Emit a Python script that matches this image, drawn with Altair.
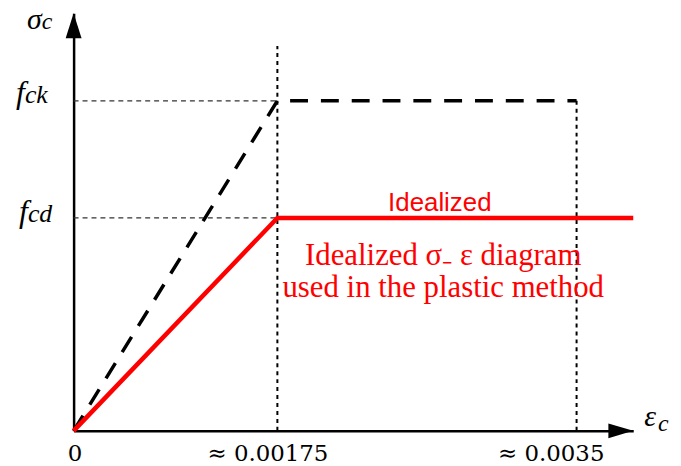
import altair as alt
import pandas as pd

# ---- data (schematic values) ----
eps_ticks = [0, 0.00175, 0.0035]
eps_tick_labels = ["0", "≈ 0.00175", "≈ 0.0035"]
eps_max = 0.00383          # end of the strain axis
sigma_max = 1.265          # end of the stress axis (fck = 1)
fck = 1.0
fcd = 0.645
guide_top = 1.166          # top of the dotted line at 0.00175

char_x = [0, 0.00175, 0.0035]
char_y = [0, fck, fck]
ideal_x = [0, 0.00175, eps_max]
ideal_y = [0, fcd, fcd]

# label expression built from the tick lists (midpoints as thresholds)
mids = [(a + b) / 2 for a, b in zip(eps_ticks[:-1], eps_ticks[1:])]
label_expr = "".join(
    f"datum.value < {m} ? '{t}' : " for m, t in zip(mids, eps_tick_labels[:-1])
) + f"'{eps_tick_labels[-1]}'"

xscale = alt.Scale(domain=[0, 0.00175, 0.0035, eps_max], range=[0, 205, 506, 563])
yscale = alt.Scale(domain=[0, sigma_max])

xaxis = alt.Axis(
    title=None, values=eps_ticks, labelExpr=label_expr, grid=False, ticks=False, tickSize=0,
    domainColor="black", domainWidth=2.5, labelFont="DejaVu Serif", labelFontSize=23,
    labelColor="black", labelBaseline="alphabetic", labelPadding=30, labelFlush=False,
    labelOverlap=False,
    labelOffset={"condition": [{"test": f"datum.value < {mids[0]}", "value": 1},
                               {"test": f"datum.value < {mids[1]}", "value": -10}],
                 "value": -26},
)
yaxis = alt.Axis(title=None, labels=False, ticks=False, grid=False,
                 domainColor="black", domainWidth=2.5)


def xenc(f):
    return alt.X(f, type="quantitative", scale=xscale, axis=xaxis)


def yenc(f):
    return alt.Y(f, type="quantitative", scale=yscale, axis=yaxis)


char_df = pd.DataFrame({"x": char_x, "y": char_y, "i": range(len(char_x))})
ideal_df = pd.DataFrame({"x": ideal_x, "y": ideal_y, "i": range(len(ideal_x))})

# guide lines
hguides = pd.DataFrame({"x": [0, 0], "x2": [eps_ticks[1]] * 2, "y": [fck, fcd]})
vguides = pd.DataFrame({"x": [eps_ticks[1], eps_ticks[2]], "y": [0, 0], "y2": [guide_top, fck]})

hg = alt.Chart(hguides).mark_rule(strokeDash=[5, 4], strokeWidth=1.2, color="#333333").encode(
    x=xenc("x"), x2="x2", y=yenc("y"))
vg = alt.Chart(vguides).mark_rule(strokeDash=[4, 4], strokeWidth=2, color="black").encode(
    x=xenc("x"), y=yenc("y"), y2="y2")

char_line = alt.Chart(char_df).mark_line(strokeDash=[18, 13], strokeWidth=3.5, color="black").encode(
    x=xenc("x"), y=yenc("y"), order="i:O")
ideal_line = alt.Chart(ideal_df).mark_line(strokeWidth=4.5, color="#ff0000").encode(
    x=xenc("x"), y=yenc("y"), order="i:O")

# axis arrows
yarrow = alt.Chart(pd.DataFrame({"x": [0], "y": [sigma_max]})).mark_point(
    shape="M0,0 L0.32,1 L-0.32,1 Z", size=2500, filled=True, color="black", opacity=1,
    strokeWidth=0).encode(x=xenc("x"), y=yenc("y"))
xarrow = alt.Chart(pd.DataFrame({"x": [eps_max], "y": [0]})).mark_point(
    shape="M0,0 L-1,-0.3 L-1,0.3 Z", size=2500, filled=True, color="black", opacity=1,
    strokeWidth=0).encode(x=xenc("x"), y=yenc("y"))


def txt(x, y, text, **kw):
    df = pd.DataFrame({"x": [x], "y": [y], "t": [text]})
    return alt.Chart(df).mark_text(**kw).encode(x=xenc("x"), y=yenc("y"), text="t:N")


serif_it = dict(font="Liberation Serif", fontStyle="italic", color="black",
                align="left", baseline="alphabetic")

labels = [
    # sigma_c
    txt(0, sigma_max, "σ", fontSize=30, dx=-47, dy=16, **serif_it),
    txt(0, sigma_max, "c", fontSize=24, dx=-32, dy=16, **serif_it),
    # f_ck
    txt(0, fck, "f", fontSize=32, dx=-58, dy=2, **serif_it),
    txt(0, fck, "ck", fontSize=26, dx=-49, dy=2, **serif_it),
    # f_cd
    txt(0, fcd, "f", fontSize=32, dx=-55, dy=4, **serif_it),
    txt(0, fcd, "cd", fontSize=26, dx=-46, dy=4, **serif_it),
    # eps_c
    txt(eps_max, 0, "ε", fontSize=30, dx=11, dy=-5, **serif_it),
    txt(eps_max, 0, "c", fontSize=24, dx=25, dy=0, **serif_it),
    # red annotations
    txt(0.0027, fcd, "Idealized", font="Liberation Sans", fontSize=26, color="#ff0000",
        align="center", baseline="alphabetic", dy=-7),
    txt(0.00272, fcd, "Idealized σ₋ ε diagram\nused in the plastic method",
        font="Liberation Serif", fontSize=31, color="#ff0000", align="center",
        baseline="alphabetic", lineBreak="\n", lineHeight=33, dy=47),
]

chart = alt.layer(hg, vg, char_line, ideal_line, yarrow, xarrow, *labels).properties(
    width=563, height=420,
    padding={"left": 66, "top": 4, "right": 40, "bottom": 34},
    autosize=alt.AutoSizeParams(type="none"),
).configure(background="white", view=alt.ViewConfig(stroke=None))

chart.save("out.html", embed_options={"renderer": "svg", "actions": False})
